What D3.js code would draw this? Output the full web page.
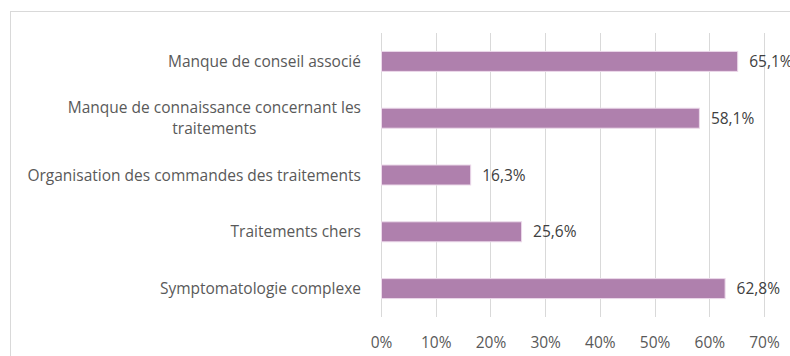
<!DOCTYPE html>
<html>
<head>
<meta charset="utf-8">
<script src="https://cdn.jsdelivr.net/npm/d3@7"></script>
<style>
  html, body { margin: 0; padding: 0; background: #fff; }
  svg { display: block; }
  text { font-family: "Open Sans", Lato, sans-serif; }
</style>
</head>
<body>
<svg id="chart" width="790" height="356"></svg>
<script>
// Difficulties reported (share of respondents)
const categories = [
  "Manque de conseil associé",
  "Manque de connaissance concernant les traitements",
  "Organisation des commandes des traitements",
  "Traitements chers",
  "Symptomatologie complexe"
];
const values = [65.1, 58.1, 16.3, 25.6, 62.8];
const valueLabels = ["65,1%", "58,1%", "16,3%", "25,6%", "62,8%"];
const tickValues = [0, 10, 20, 30, 40, 50, 60, 70];
const tickLabels = ["0%", "10%", "20%", "30%", "40%", "50%", "60%", "70%"];

const FONT = "'Open Sans', Lato, sans-serif";
const FS = "15.5px";

const svg = d3.select("#chart");
const W = 790, H = 356;
const plot = { left: 381, right: 764, top: 33, bottom: 317 };

// chart frame
svg.append("rect")
  .attr("x", 10.5).attr("y", 11.5)
  .attr("width", W).attr("height", H)
  .attr("fill", "none").attr("stroke", "#d9d9d9").attr("stroke-width", 1);

const x = d3.scaleLinear().domain([0, 70]).range([plot.left, plot.right]);
const y = d3.scaleBand().domain(categories).range([plot.top, plot.bottom]).paddingInner(0.648).paddingOuter(0.324);

// vertical gridlines
svg.append("g").selectAll("line").data(tickValues).join("line")
  .attr("x1", d => Math.round(x(d)) + 0.5).attr("x2", d => Math.round(x(d)) + 0.5)
  .attr("y1", plot.top).attr("y2", plot.bottom)
  .attr("stroke", "#d9d9d9").attr("stroke-width", 1);

// x axis tick labels
const xAxis = d3.axisBottom(x).tickValues(tickValues)
  .tickFormat((d, i) => tickLabels[i]).tickSize(0).tickPadding(0);
const gx = svg.append("g").attr("transform", `translate(0,${plot.bottom})`).call(xAxis);
gx.select(".domain").remove();
gx.selectAll("text")
  .attr("y", 31).attr("dy", null)
  .attr("fill", "#595959").style("font-size", FS)
  .style("font-family", FONT);

// bars
svg.append("g").selectAll("rect").data(categories).join("rect")
  .attr("x", x(0) + 0.5)
  .attr("y", d => y(d))
  .attr("width", (d, i) => x(values[i]) - x(0))
  .attr("height", y.bandwidth())
  .attr("fill", "#af80ad")
  .attr("stroke", "#ecd9ea").attr("stroke-width", 1);

// value labels
svg.append("g").selectAll("text").data(categories).join("text")
  .attr("x", (d, i) => x(values[i]) + 12)
  .attr("y", d => y(d) + y.bandwidth() / 2)
  .attr("dy", "0.36em")
  .attr("fill", "#404040")
  .style("font-size", FS)
  .text((d, i) => valueLabels[i]);

// category labels (wrapped, block right-aligned, lines centred in block)
const labelRight = 361;
const wrapAt = 356;
const catG = svg.append("g");
categories.forEach(cat => {
  const words = cat.split(" ");
  const probe = catG.append("text").style("font-size", FS);
  const lines = [];
  let cur = [];
  words.forEach(w => {
    const test = cur.concat(w).join(" ");
    probe.text(test);
    if (probe.node().getComputedTextLength() > wrapAt && cur.length) {
      lines.push(cur.join(" "));
      cur = [w];
    } else cur.push(w);
  });
  lines.push(cur.join(" "));
  const widths = lines.map(l => { probe.text(l); return probe.node().getComputedTextLength(); });
  probe.remove();
  const blockW = d3.max(widths);
  const cx = labelRight - blockW / 2;
  const lh = 21;
  const cy = y(cat) + y.bandwidth() / 2;
  lines.forEach((l, k) => {
    catG.append("text")
      .attr("x", cx)
      .attr("y", cy + (k - (lines.length - 1) / 2) * lh)
      .attr("dy", "0.36em")
      .attr("text-anchor", "middle")
      .attr("fill", "#595959")
      .style("font-size", FS)
      .text(l);
  });
});
</script>
</body>
</html>
